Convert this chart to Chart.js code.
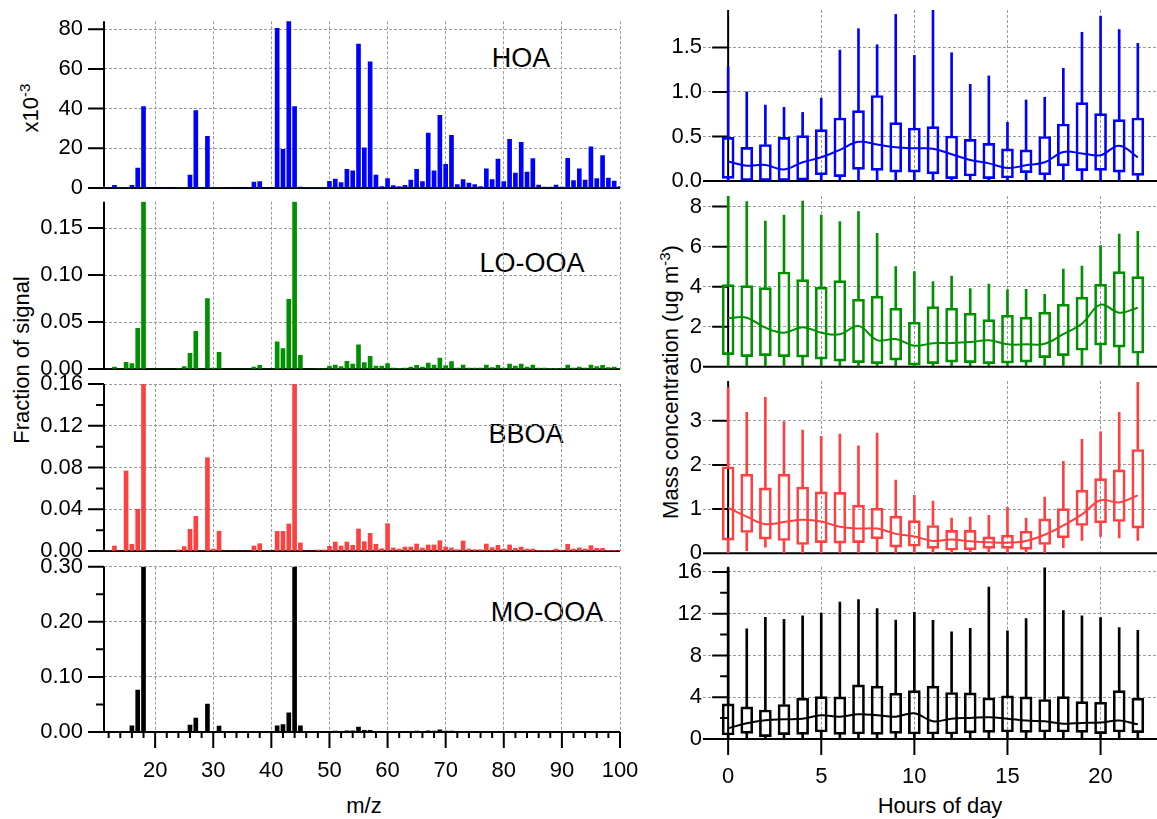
<!DOCTYPE html>
<html>
<head>
<meta charset="utf-8">
<script src="https://cdn.jsdelivr.net/npm/chart.js@4"></script>
<style>
  body { margin: 0; background: #fff; width: 1157px; height: 819px; position: relative; overflow: hidden;
         font-family: 'Liberation Sans', Arial, sans-serif; color: #000; }
  canvas { position: absolute; }
  .lbl { position: absolute; transform: translate(-50%, -50%); white-space: nowrap; }
  .rot { position: absolute; transform: translate(-50%, -50%) rotate(-90deg); white-space: nowrap; font-size: 22px; }
  .tag { font-size: 27px; }
  sup { font-size: 15px; }
</style>
</head>
<body>
<div class="lbl tag" style="left:521px;top:58px">HOA</div>
<div class="lbl tag" style="left:532px;top:263px">LO-OOA</div>
<div class="lbl tag" style="left:526px;top:434px">BBOA</div>
<div class="lbl tag" style="left:547px;top:612px">MO-OOA</div>
<div class="rot" style="left:30px;top:108px">x10<sup>-3</sup></div>
<div class="rot" style="left:22px;top:360px">Fraction of signal</div>
<div class="rot" style="left:670px;top:382px">Mass concentration (ug m<sup>-3</sup>)</div>
<div class="lbl" style="left:364px;top:806px;font-size:22px">m/z</div>
<div class="lbl" style="left:940px;top:806px;font-size:22px">Hours of day</div>
<script>
// m/z 12 .. 100
const mz = Array.from({ length: 89 }, (_, i) => 12 + i);

// mass spectra (HOA in units of 1e-3, others fraction of signal), m/z 12..100
const hoaMS = [
  0, 1.3, 0.2, 0.3, 1.3, 10, 41, 0, 0, 0,
  0, 0, 0.3, 0.3, 6.5, 39, 0, 26, 0.3, 0.2,
  0, 0, 0, 0, 0, 3, 3.2, 0, 0, 80.5,
  19.5, 84, 41, 0.5, 0.2, 0.2, 0.3, 0.3, 3.4, 4.5,
  2.7, 9.4, 8.6, 72.5, 20.3, 63.6, 6.5, 0.7, 4.7, 1.2,
  0.7, 1.3, 4, 9.4, 3.2, 27.7, 8.7, 36.6, 11.9, 26.5,
  1.7, 4.2, 2.5, 1.7, 0.7, 9.6, 4.2, 14.6, 3.2, 24.5,
  7.5, 23, 8, 14.8, 1.5, 0.5, 0.5, 1.5, 0.5, 15,
  3.7, 9.6, 4, 20.8, 4.7, 16.3, 5, 3.5, 0.7
];
const looaMS = [
  0, 0.002, 0, 0.007, 0.0057, 0.0434, 0.178, 0, 0, 0,
  0, 0, 0.0005, 0.0025, 0.0167, 0.040, 0, 0.075, 0.001, 0.0178,
  0, 0, 0, 0, 0, 0.002, 0.004, 0, 0, 0.0288,
  0.0217, 0.074, 0.178, 0.0146, 0, 0, 0.0005, 0.0005, 0.003, 0.0043,
  0.0025, 0.0082, 0.0053, 0.0256, 0.0068, 0.0135, 0.003, 0.003, 0.0057, 0.001,
  0.0007, 0.001, 0.0021, 0.004, 0.0021, 0.0064, 0.0043, 0.0117, 0.0036, 0.0078,
  0.001, 0.0043, 0.001, 0.001, 0.001, 0.0043, 0.0014, 0.004, 0.001, 0.0053,
  0.003, 0.0053, 0.002, 0.0043, 0.001, 0.001, 0.0007, 0.0007, 0.0007, 0.0043,
  0.001, 0.002, 0.001, 0.0043, 0.0025, 0.004, 0.0014, 0.002, 0.0007
];
const bboaMS = [
  0, 0.0048, 0, 0.0767, 0.0064, 0.040, 0.16, 0, 0, 0,
  0, 0, 0.001, 0.0042, 0.0208, 0.0332, 0, 0.0894, 0.0019, 0.019,
  0, 0, 0, 0, 0, 0.0048, 0.007, 0, 0, 0.0188,
  0.0188, 0.0259, 0.16, 0.0077, 0, 0, 0.001, 0.001, 0.0045, 0.0086,
  0.0048, 0.0086, 0.0054, 0.0211, 0.0089, 0.0169, 0.0064, 0.0022, 0.0262, 0.0029,
  0.0019, 0.0038, 0.0038, 0.0067, 0.0029, 0.0058, 0.0058, 0.0099, 0.0038, 0.0029,
  0.0013, 0.0096, 0.0019, 0.0013, 0.0013, 0.0067, 0.0032, 0.0054, 0.0019, 0.0058,
  0.0026, 0.0038, 0.0019, 0.0019, 0.0006, 0.0006, 0.0006, 0.0019, 0.0006, 0.0064,
  0.0019, 0.0029, 0.0019, 0.0051, 0.0026, 0.0026, 0.0006, 0.0006, 0.0006
];
const mooaMS = [
  0, 0.0005, 0, 0, 0.0114, 0.076, 0.30, 0, 0, 0,
  0, 0, 0, 0.001, 0.0126, 0.0253, 0, 0.0506, 0.001, 0.0108,
  0, 0, 0, 0, 0, 0.001, 0.001, 0, 0, 0.0114,
  0.0133, 0.035, 0.30, 0.0114, 0, 0, 0, 0, 0.001, 0.0015,
  0.001, 0.002, 0.002, 0.009, 0.003, 0.003, 0.001, 0.0005, 0.001, 0.0005,
  0.0005, 0.0005, 0.001, 0.0015, 0.001, 0.002, 0.0015, 0.004, 0.0015, 0.0015,
  0.0005, 0.001, 0.0005, 0.0005, 0.0005, 0.001, 0.0005, 0.001, 0.0005, 0.001,
  0.0005, 0.001, 0.0005, 0.001, 0.0005, 0.0005, 0.0005, 0.0005, 0.0005, 0.001,
  0.0005, 0.0005, 0.0005, 0.001, 0.0005, 0.001, 0.0005, 0.0005, 0.0005
];

// diurnal box plots, hours 0..22 (whisker low, 25th, 75th, whisker high, median)
const hours = [0, 1, 2, 3, 4, 5, 6, 7, 8, 9, 10, 11, 12, 13, 14, 15, 16, 17, 18, 19, 20, 21, 22];

const hoaLo  = [0, 0, 0, 0, 0, 0, 0, 0, 0, 0, 0, 0, 0, 0, 0, 0, 0, 0, 0, 0, 0, 0, 0];
const hoaQ1  = [0.03, 0, 0, 0, 0.011, 0.07, 0.05, 0.13, 0.12, 0.10, 0.10, 0.08, 0.026, 0.056, 0.026, 0.034, 0.094, 0.07, 0.17, 0.116, 0.12, 0.10, 0.064];
const hoaQ3  = [0.49, 0.378, 0.41, 0.49, 0.51, 0.576, 0.707, 0.79, 0.96, 0.655, 0.595, 0.61, 0.505, 0.468, 0.423, 0.36, 0.35, 0.50, 0.64, 0.88, 0.756, 0.69, 0.707];
const hoaHi  = [1.28, 1.0, 0.853, 0.827, 0.77, 0.93, 1.47, 1.71, 1.53, 1.87, 1.41, 1.92, 1.44, 1.085, 1.18, 0.66, 0.91, 0.94, 1.265, 1.67, 1.85, 1.70, 1.545];
const hoaMed = [0.22, 0.172, 0.18, 0.13, 0.21, 0.266, 0.35, 0.44, 0.41, 0.378, 0.367, 0.363, 0.30, 0.236, 0.198, 0.146, 0.176, 0.21, 0.325, 0.31, 0.29, 0.397, 0.266];

const looaLo  = [0, 0.05, 0.05, 0, 0.05, 0.05, 0.05, 0, 0.05, 0.05, 0, 0.05, 0.05, 0.05, 0.05, 0.05, 0.05, 0, 0.05, 0.05, 0.13, 0.05, 0.05];
const looaQ1  = [0.6, 0.5, 0.55, 0.5, 0.48, 0.38, 0.28, 0.2, 0.15, 0.33, 0.08, 0.15, 0.23, 0.2, 0.15, 0.18, 0.23, 0.45, 0.55, 0.82, 1.08, 0.98, 0.67];
const looaQ3  = [4.1, 4.05, 3.95, 4.73, 4.35, 3.97, 4.3, 3.37, 3.53, 2.92, 2.22, 3.0, 2.92, 2.67, 2.35, 2.57, 2.48, 2.73, 3.13, 3.48, 4.12, 4.75, 4.5];
const looaHi  = [8.53, 8.25, 7.28, 7.58, 8.28, 7.58, 7.25, 7.75, 6.67, 5.0, 4.75, 4.25, 4.53, 3.9, 4.13, 3.85, 3.87, 3.62, 4.88, 5.03, 6.05, 6.63, 6.77];
const looaMed = [2.43, 2.45, 1.95, 1.7, 1.97, 1.7, 1.62, 2.03, 1.33, 1.38, 1.05, 1.17, 1.18, 1.23, 1.32, 1.12, 1.12, 1.15, 1.63, 2.15, 3.1, 2.7, 2.95];

const bboaLo  = [0, 0.06, 0.14, 0, 0, 0, 0, 0, 0, 0, 0, 0, 0, 0, 0, 0, 0, 0, 0.13, 0.29, 0.38, 0.35, 0.29];
const bboaQ1  = [0.3, 0.47, 0.32, 0.29, 0.2, 0.24, 0.23, 0.24, 0.33, 0.14, 0.16, 0.11, 0.07, 0.08, 0.11, 0.11, 0.09, 0.2, 0.35, 0.63, 0.69, 0.72, 0.57];
const bboaQ3  = [1.96, 1.79, 1.48, 1.79, 1.5, 1.39, 1.38, 1.09, 1.02, 0.84, 0.74, 0.63, 0.52, 0.52, 0.37, 0.41, 0.5, 0.78, 1.01, 1.43, 1.69, 1.89, 2.35];
const bboaHi  = [3.75, 3.19, 3.53, 2.98, 2.79, 2.65, 2.7, 2.43, 2.72, 1.66, 1.31, 1.18, 0.8, 0.82, 0.86, 1.04, 0.8, 1.27, 2.08, 2.58, 2.75, 3.19, 3.87];
const bboaMed = [1.03, 0.83, 0.66, 0.71, 0.76, 0.72, 0.6, 0.56, 0.56, 0.44, 0.38, 0.28, 0.31, 0.27, 0.25, 0.24, 0.28, 0.42, 0.63, 0.88, 1.2, 1.15, 1.31];

const mooaLo  = [0.1, 0.1, 0.1, 0.1, 0.1, 0.1, 0.1, 0.1, 0.1, 0.1, 0.1, 0.1, 0.1, 0.1, 0.1, 0.1, 0.1, 0.1, 0.1, 0.1, 0.1, 0.1, 0.1];
const mooaQ1  = [0.38, 0.54, 0.22, 0.42, 0.45, 0.67, 0.45, 0.48, 0.45, 0.54, 0.48, 0.48, 0.48, 0.58, 0.64, 0.67, 0.64, 0.67, 0.67, 0.64, 0.51, 0.67, 0.61];
const mooaQ3  = [3.36, 3.07, 2.78, 3.3, 3.9, 4.06, 4.03, 5.18, 5.06, 4.38, 4.64, 5.06, 4.45, 4.42, 3.94, 4.13, 4.03, 3.78, 4.06, 3.58, 3.52, 4.64, 3.9];
const mooaHi  = [16.4, 10.56, 11.65, 11.46, 11.8, 12.06, 13.12, 13.34, 12.48, 11.39, 12.13, 11.36, 10.27, 10.59, 14.56, 10.37, 11.52, 16.38, 12.29, 11.8, 11.62, 10.66, 10.4];
const mooaMed = [1.02, 1.5, 1.79, 1.89, 1.95, 2.27, 2.14, 2.37, 2.27, 2.14, 2.46, 1.7, 1.95, 2.02, 2.08, 1.95, 1.76, 1.7, 1.47, 1.54, 1.57, 1.76, 1.41];

const BLUE = '#0000ff', GREEN = '#009000', RED = '#ff4040', BLACK = '#000000';

Chart.defaults.font.family = "'Liberation Sans', Arial, sans-serif";
Chart.defaults.font.size = 22;
Chart.defaults.color = '#000';

// black axis lines and tick marks (major + minor), drawn under the data
const axesPlugin = {
  id: 'axes',
  beforeDatasetsDraw(chart, args, o) {
    const { ctx, chartArea: a, scales: { x, y } } = chart;
    const ax = o.yAt === undefined ? a.left : x.getPixelForValue(o.yAt);
    const y0 = y.getPixelForValue(0);
    const isMajor = (v, step) => Math.abs(v / step - Math.round(v / step)) < 1e-6;
    ctx.save();
    ctx.strokeStyle = '#000';
    ctx.lineWidth = 2;
    ctx.beginPath();
    ctx.moveTo(a.left, y0); ctx.lineTo(a.right, y0);
    ctx.moveTo(ax, y0 + 1); ctx.lineTo(ax, a.top);
    for (let i = 0; i * o.yMinor <= y.max + 1e-9; i++) {
      const v = i * o.yMinor;
      const py = y.getPixelForValue(v);
      ctx.moveTo(ax, py); ctx.lineTo(ax - (isMajor(v, o.yMajor) ? 16 : 8), py);
    }
    if (o.xMajor) {
      for (let i = Math.ceil(x.min / o.xMinor); i * o.xMinor <= x.max + 1e-9; i++) {
        const v = i * o.xMinor;
        const px = x.getPixelForValue(v);
        ctx.moveTo(px, y0); ctx.lineTo(px, y0 + (isMajor(v, o.xMajor) ? 16 : 6));
      }
    }
    ctx.stroke();
    ctx.restore();
  }
};

function makeCanvas(left, top, w, h) {
  const c = document.createElement('canvas');
  c.width = w; c.height = h;
  c.style.left = left + 'px';
  c.style.top = top + 'px';
  document.body.appendChild(c);
  return c;
}

// fixed axis sizes; drop the label overflow padding so the plot areas sit exactly
function fixSize(prop, size) {
  return s => {
    s[prop] = size;
    s.paddingTop = s.paddingBottom = s.paddingLeft = s.paddingRight = 0;
  };
}

const grid = { color: '#9a9a9a', lineWidth: 1, drawTicks: false };
const border = { display: false, dash: [3, 2] };

function spectrum(top, h, padTop, xH, values, color, yMax, yMajor, yMinor, digits, bottom) {
  new Chart(makeCanvas(0, top, 640, h), {
    type: 'bar',
    data: {
      datasets: [{
        data: mz.map((m, i) => ({ x: m, y: values[i] })),
        backgroundColor: color,
        borderWidth: 0,
        barThickness: 4
      }]
    },
    options: {
      responsive: false,
      animation: false,
      layout: { padding: { top: padTop, right: 20, left: 0, bottom: 0 } },
      plugins: {
        legend: { display: false },
        tooltip: { enabled: false },
        axes: { yMajor, yMinor, xMajor: bottom ? 10 : 0, xMinor: 2 }
      },
      scales: {
        x: {
          type: 'linear', min: 11.2, max: 100, offset: false,
          grid: { ...grid, offset: false }, border,
          ticks: { display: bottom, stepSize: 10, includeBounds: false, autoSkip: false, maxRotation: 0, padding: 26 },
          afterFit: fixSize('height', xH)
        },
        y: {
          min: 0, max: yMax,
          grid, border,
          ticks: { stepSize: yMajor, includeBounds: false, padding: 21, callback: v => v.toFixed(digits) },
          afterFit: fixSize('width', 104)
        }
      }
    },
    plugins: [axesPlugin]
  });
}

function diurnal(top, h, padTop, xH, lo, q1, q3, hi, med, color, yMax, yMajor, yMinor, digits, bottom) {
  const pts = arr => hours.map((hr, i) => ({ x: hr, y: arr(i) }));
  new Chart(makeCanvas(640, top, 517, h), {
    type: 'bar',
    data: {
      datasets: [
        { data: pts(i => [lo[i], q1[i]]), backgroundColor: color, borderWidth: 0, barThickness: 2, grouped: false },
        { data: pts(i => [q3[i], hi[i]]), backgroundColor: color, borderWidth: 0, barThickness: 2, grouped: false },
        { data: pts(i => [q1[i], q3[i]]), backgroundColor: 'rgba(0,0,0,0)', borderColor: color, borderWidth: 2,
          borderSkipped: false, barThickness: 12, grouped: false },
        { type: 'line', data: pts(i => med[i]), borderColor: color, borderWidth: 2, pointRadius: 0, tension: 0.4, fill: false }
      ]
    },
    options: {
      responsive: false,
      animation: false,
      layout: { padding: { top: padTop, right: 0, left: 0, bottom: 0 } },
      plugins: {
        legend: { display: false },
        tooltip: { enabled: false },
        axes: { yAt: 0, yMajor, yMinor, xMajor: bottom ? 5 : 0, xMinor: 5 }
      },
      scales: {
        x: {
          type: 'linear', min: -1.35, max: 23.03, offset: false,
          grid: { ...grid, offset: false }, border,
          ticks: { display: bottom, stepSize: 5, includeBounds: false, autoSkip: false, maxRotation: 0, padding: 25 },
          afterFit: fixSize('height', xH)
        },
        y: {
          min: 0, max: yMax,
          grid, border,
          ticks: { stepSize: yMajor, includeBounds: false, padding: 1, callback: v => v.toFixed(digits) },
          afterFit: fixSize('width', 63)
        }
      }
    },
    plugins: [axesPlugin]
  });
}

spectrum(0, 200, 21.3, 12, hoaMS, BLUE, 84, 20, 20, 0, false);
spectrum(190, 190, 11.7, 11, looaMS, GREEN, 0.178, 0.05, 0.05, 2, false);
spectrum(372, 190, 12, 11, bboaMS, RED, 0.16, 0.04, 0.02, 2, false);
spectrum(555, 264, 11.7, 87, mooaMS, BLACK, 0.30, 0.1, 0.05, 2, true);

diurnal(0, 192, 10, 11, hoaLo, hoaQ1, hoaQ3, hoaHi, hoaMed, BLUE, 1.92, 0.5, 0.5, 1, false);
diurnal(186, 192, 10, 11.3, looaLo, looaQ1, looaQ3, looaHi, looaMed, GREEN, 8.53, 2, 2, 0, false);
diurnal(371, 194, 10, 11.7, bboaLo, bboaQ1, bboaQ3, bboaHi, bboaMed, RED, 3.9, 1, 1, 0, false);
diurnal(556, 263, 10.7, 80, mooaLo, mooaQ1, mooaQ3, mooaHi, mooaMed, BLACK, 16.5, 4, 2, 0, true);
</script>
</body>
</html>
